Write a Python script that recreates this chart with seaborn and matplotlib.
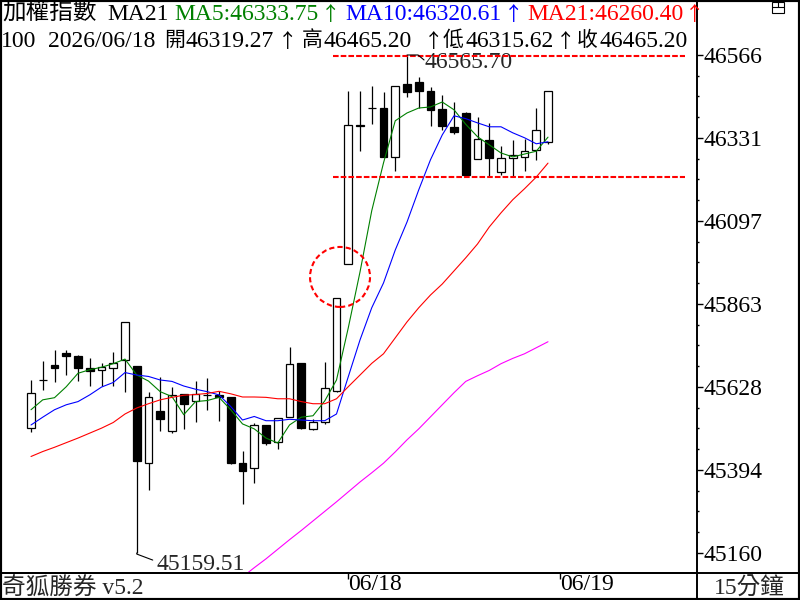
import numpy as np
import pandas as pd
import seaborn as sns
import matplotlib.pyplot as plt
from matplotlib.patches import Ellipse, Rectangle
from matplotlib.lines import Line2D

# 15-minute bars of the TAIEX, end of 06/17 and the whole of 06/18
opens = [45512, 45648, 45691, 45725, 45716, 45681, 45677, 45681, 45705, 45688,
         45413, 45561, 45503, 45609, 45588, 45606, 45607, 45600, 45413, 45399,
         45520, 45474, 45543, 45695, 45509, 45529, 45618, 45975, 46367, 46416,
         46416, 46279, 46485, 46490, 46464, 46414, 46363, 46401, 46272, 46326,
         46235, 46274, 46279, 46298, 46319.27]
highs = [45648, 45702, 45733, 45733, 45719, 45710, 45697, 45727, 45811, 45688,
         45615, 45656, 45629, 45609, 45644, 45653, 45617, 45600, 45448, 45526,
         45520, 45540, 45740, 45695, 45537, 45698, 45880, 46464, 46464, 46478,
         46460, 46479, 46565.70, 46503, 46474, 46453, 46433, 46406, 46390, 46375,
         46309, 46326, 46328, 46416, 46465.20]
lows = [45502, 45620, 45641, 45662, 45646, 45631, 45631, 45631, 45615, 45159.51,
        45338, 45505, 45498, 45509, 45528, 45562, 45533, 45412, 45297, 45358,
        45465, 45453, 45543, 45509, 45507, 45523, 45615, 45975, 46296, 46370,
        46279, 46239, 46447, 46416, 46364, 46354, 46342, 46221, 46272, 46222,
        46227, 46221, 46239, 46270, 46315.62]
closes = [45611, 45647, 45683, 45717, 45683, 45672, 45686, 45695, 45811, 45418,
          45600, 45539, 45605, 45581, 45608, 45605, 45600, 45415, 45391, 45520,
          45470, 45540, 45693, 45512, 45528, 45625, 45880, 46368, 46365, 46416,
          46279, 46479, 46461, 46465, 46409, 46364, 46349, 46227, 46329, 46274,
          46274, 46282, 46295, 46354, 46465.20]

ma5 = [45564, 45592, 45598, 45629, 45667, 45677, 45684, 45694, 45707, 45662,
       45645, 45615, 45601, 45550, 45587, 45590, 45599, 45564, 45524, 45510,
       45484, 45470, 45521, 45543, 45547, 45589, 45648, 45795, 45953, 46126,
       46261, 46380, 46402, 46416, 46419, 46433, 46411, 46370, 46335, 46312,
       46289, 46278, 46286, 46294, 46333.75]
ma10 = [45521, 45543, 45564, 45578, 45587, 45606, 45628, 45641, 45669, 45662,
        45658, 45648, 45644, 45631, 45622, 45615, 45606, 45573, 45535, 45545,
        45533, 45533, 45537, 45535, 45533, 45533, 45552, 45657, 45761, 45852,
        45922, 46015, 46094, 46185, 46270, 46340, 46394, 46386, 46374, 46363,
        46363, 46346, 46332, 46315, 46320.61]
ma21 = [45432, 45446, 45458, 45471, 45484, 45498, 45512, 45528, 45552, 45569,
        45581, 45592, 45599, 45605, 45607, 45610, 45616, 45609, 45600, 45600,
        45599, 45595, 45595, 45587, 45581, 45581, 45595, 45629, 45662, 45695,
        45722, 45767, 45812, 45852, 45888, 45919, 45956, 45993, 46032, 46080,
        46120, 46157, 46188, 46221, 46260.40]
# magenta average, only visible from bar 19 on
ma_long = [45092, 45118, 45143, 45170, 45197, 45223, 45250, 45277, 45304, 45332,
           45360, 45386, 45413, 45445, 45479, 45510, 45544, 45578, 45612, 45644,
           45660, 45675, 45694, 45709, 45722, 45739, 45756]
ma_long_start = 18

y_ticks = [45159.51, 45393.87, 45628.24, 45862.61, 46096.97, 46331.34, 46565.70]
y_tick_labels = ['45160', '45394', '45628', '45863', '46097', '46331', '46566']
x_ticks = [27, 45]
x_tick_labels = ['06/18', '06/19']
guide_levels = [46562, 46220]
gap_center = (26.3, 45939)
high_bar, high_text = 32, '46565.70'
low_bar, low_text = 9, '45159.51'

GREEN, BLUE, RED, MAGENTA = '#008000', '#0000ff', '#ff0000', '#ff00ff'

header_1 = [('加權指數', 2, 'black'), ('MA21', 107, 'black'),
            ('MA5:46333.75', 174, GREEN), ('MA10:46320.61', 345, BLUE),
            ('MA21:46260.40', 527, RED)]
arrows_1 = [(331, GREEN), (514, BLUE), (695, RED)]
header_2 = [('100', 1), ('2026/06/18', 48), ('46319.27', 186), ('46465.20', 324),
            ('46315.62', 465), ('46465.20', 599)]
header_2_cjk = [('開', 164), ('高', 302), ('低', 443), ('收', 577)]
arrows_2 = [288, 434, 566]

sns.set_theme(style='white')
fonts = ['Liberation Serif', 'Noto Sans CJK TC', 'DejaVu Sans']
plt.rcParams['font.family'] = fonts
FS = 17

fig = plt.figure(figsize=(8, 6), dpi=100)
ax = fig.add_axes([0, 27 / 600, 697 / 800, 573 / 600])
ax.set_facecolor('white')

# candles
o, h, l, c = map(np.array, (opens, highs, lows, closes))
bars = np.arange(len(c))
fill = np.where(c >= o, 'white', 'black')
ax.vlines(bars, l, h, color='black', lw=0.9, zorder=2)
ax.bar(bars, np.abs(c - o), bottom=np.minimum(o, c), width=0.68, color=fill,
       edgecolor='black', linewidth=0.9, zorder=3)

# moving averages
ma_df = pd.concat([
    pd.DataFrame({'bar': bars, 'value': ma5, 'line': 'MA5'}),
    pd.DataFrame({'bar': bars, 'value': ma10, 'line': 'MA10'}),
    pd.DataFrame({'bar': bars, 'value': ma21, 'line': 'MA21'}),
    pd.DataFrame({'bar': np.arange(ma_long_start, ma_long_start + len(ma_long)),
                  'value': ma_long, 'line': 'long'}),
])
sns.lineplot(data=ma_df, x='bar', y='value', hue='line', ax=ax, legend=False,
             palette={'MA5': GREEN, 'MA10': BLUE, 'MA21': RED, 'long': MAGENTA},
             lw=0.8, sort=False, zorder=4)

# user drawn guides
for lvl in guide_levels:
    ax.plot([25.7, 55.66], [lvl, lvl], color=RED, lw=1.5, ls=(0, (2.7, 1.0)), zorder=5)
ax.add_patch(Ellipse(gap_center, 60 / 11.75, 60 * 2.8237, fill=False, ec=RED,
                     lw=1.5, ls=(0, (2.5, 1.5)), zorder=5))

# high / low markers
ax.plot([high_bar, high_bar + 0.94, high_bar + 1.45], [highs[high_bar], highs[high_bar], highs[high_bar] - 14],
        color='black', lw=0.8, zorder=5)
ax.text(high_bar + 1.5, highs[high_bar] - 37, high_text, fontsize=FS, va='baseline', ha='left')
ax.plot([low_bar, low_bar, low_bar + 1.36], [lows[low_bar], lows[low_bar] - 3, lows[low_bar] - 20],
        color='black', lw=0.8, zorder=5)
ax.text(low_bar + 1.7, lows[low_bar] - 48, low_text, fontsize=FS, va='baseline', ha='left')

ax.set_xlim(-31 / 11.75, 666 / 11.75)
ax.set_ylim(45103, 46721)
ax.set_xlabel('')
ax.set_ylabel('')
ax.grid(False)
for s in ax.spines.values():
    s.set_color('black')
    s.set_linewidth(1.4)

ax.yaxis.tick_right()
ax.set_yticks(y_ticks, y_tick_labels)
step = (y_ticks[1] - y_ticks[0]) / 4
ax.set_yticks([t + k * step for t in y_ticks[:-1] for k in (1, 2, 3)], minor=True)
ax.tick_params(axis='y', which='major', direction='out', length=4, width=1,
               pad=1, labelsize=FS, colors='black', right=True, left=False)
ax.tick_params(axis='y', which='minor', direction='out', length=1.5, width=1,
               colors='black', right=True, left=False)
ax.set_xticks(x_ticks, x_tick_labels)
ax.tick_params(axis='x', direction='out', length=4, width=1, pad=-3,
               labelsize=FS, colors='black', bottom=True)
for lbl in ax.get_xticklabels():
    lbl.set_ha('left')


def fx(x):
    return x / 800


def fy(y):
    return 1 - y / 600


arrow_font = ['Noto Sans CJK TC', 'DejaVu Sans']

# header lines
for txt, x, col in header_1:
    fig.text(fx(x), fy(20), txt, color=col, fontsize=FS, va='baseline', ha='left')
for x, col in arrows_1:
    fig.text(fx(x), fy(20), '↑', color=col, fontsize=14, va='baseline', ha='center',
             family=arrow_font)
for txt, x in header_2:
    fig.text(fx(x), fy(47), txt, color='black', fontsize=FS, va='baseline', ha='left')
for txt, x in header_2_cjk:
    fig.text(fx(x), fy(46), txt, color='black', fontsize=15, va='baseline', ha='left',
             family=arrow_font)
for x in arrows_2:
    fig.text(fx(x), fy(47), '↑', color='black', fontsize=14, va='baseline', ha='center',
             family=arrow_font)

# bottom strip and frame
fig.text(fx(2), fy(595), '奇狐勝券 v5.2', fontsize=FS, va='baseline', ha='left')
fig.text(fx(749), fy(595), '15分鐘', fontsize=FS, va='baseline', ha='center')
fig.add_artist(Line2D([0, 1], [fy(573), fy(573)], color='black', lw=1.4))
fig.add_artist(Line2D([fx(697), fx(697)], [fy(573), 0], color='black', lw=1.4))
fig.add_artist(Rectangle((0, 0), 1, 1, transform=fig.transFigure, fill=False,
                         ec='black', lw=3))
fig.add_artist(Rectangle((fx(772), fy(13)), 12 / 800, 11 / 600, transform=fig.transFigure,
                         fill=False, ec='black', lw=0.8))
fig.add_artist(Line2D([fx(772), fx(784)], [fy(7), fy(7)], color='black', lw=0.8))
fig.add_artist(Line2D([fx(778), fx(778)], [fy(2), fy(7)], color='black', lw=0.8))

fig.savefig('out.png', dpi=100, facecolor='white')
